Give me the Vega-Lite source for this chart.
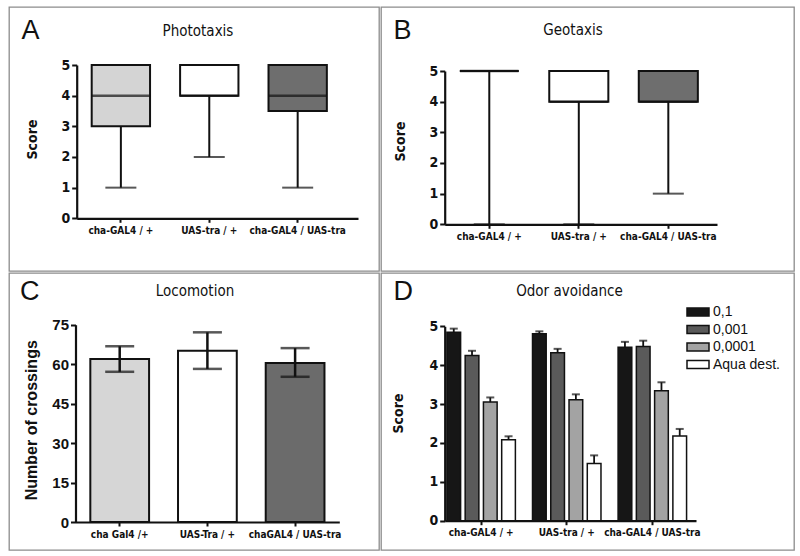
{
  "$schema": "https://vega.github.io/schema/vega-lite/v6.json",
  "padding": {"left": 8, "top": 6, "right": 0, "bottom": 0},
  "background": "white",
  "spacing": 0,
  "resolve": {"scale": {"color": "independent"}},
  "config": {
    "view": {"stroke": "#8c8c8c", "strokeWidth": 1.3},
    "concat": {"spacing": 0},
    "axis": {
      "grid": false,
      "domainColor": "#111", "domainWidth": 2.2,
      "tickColor": "#111", "tickWidth": 2, "tickSize": 5,
      "labelFont": "DejaVu Sans Condensed, Liberation Sans, sans-serif", "labelFontWeight": "bold", "labelColor": "#111",
      "titleFont": "DejaVu Sans Condensed, Liberation Sans, sans-serif", "titleFontWeight": "bold", "titleFontSize": 14, "titleColor": "#111"
    },
    "axisLeft": {"labelFontSize": 14, "labelPadding": 2, "titleAlign": "center", "titleBaseline": "middle", "titleAngle": 270},
    "axisBottom": {"labelFontSize": 10, "labelPadding": 3, "labelAngle": 0, "tickSize": 4},
    "axisTop": {"labels": false, "ticks": false, "domain": false, "titleAlign": "left", "titleBaseline": "alphabetic", "titleAngle": 0, "titleFont": "Liberation Sans, sans-serif", "titleFontWeight": "normal", "titleFontSize": 27, "titleColor": "#111"},
    "title": {"font": "DejaVu Sans Condensed, Liberation Sans, sans-serif", "fontSize": 15, "fontWeight": "normal", "color": "#111", "anchor": "middle", "frame": "group", "baseline": "alphabetic"}
  },
  "datasets": {
    "phototaxis": [
      {"genotype": "cha-GAL4 / +", "min": 1, "q1": 3, "median": 4, "q3": 5, "max": 5},
      {"genotype": "UAS-tra / +", "min": 2, "q1": 4, "median": 4, "q3": 5, "max": 5},
      {"genotype": "cha-GAL4 / UAS-tra", "min": 1, "q1": 3.5, "median": 4, "q3": 5, "max": 5}
    ],
    "geotaxis": [
      {"genotype": "cha-GAL4 / +", "min": 0, "q1": 5, "median": 5, "q3": 5, "max": 5},
      {"genotype": "UAS-tra / +", "min": 0, "q1": 4, "median": 4, "q3": 5, "max": 5},
      {"genotype": "cha-GAL4 / UAS-tra", "min": 1, "q1": 4, "median": 4, "q3": 5, "max": 5}
    ],
    "locomotion": [
      {"genotype": "cha Gal4 /+", "mean": 62.0, "lo": 57.1, "hi": 66.8},
      {"genotype": "UAS-Tra / +", "mean": 65.1, "lo": 58.2, "hi": 72.1},
      {"genotype": "chaGAL4 / UAS-tra", "mean": 60.4, "lo": 55.2, "hi": 66.1}
    ],
    "odor": [
      {"genotype": "cha-GAL4 / +", "concentration": "0,1", "score": 4.85, "upper": 4.94},
      {"genotype": "cha-GAL4 / +", "concentration": "0,001", "score": 4.25, "upper": 4.37},
      {"genotype": "cha-GAL4 / +", "concentration": "0,0001", "score": 3.05, "upper": 3.17},
      {"genotype": "cha-GAL4 / +", "concentration": "Aqua dest.", "score": 2.08, "upper": 2.17},
      {"genotype": "UAS-tra / +", "concentration": "0,1", "score": 4.81, "upper": 4.87},
      {"genotype": "UAS-tra / +", "concentration": "0,001", "score": 4.32, "upper": 4.42},
      {"genotype": "UAS-tra / +", "concentration": "0,0001", "score": 3.11, "upper": 3.25},
      {"genotype": "UAS-tra / +", "concentration": "Aqua dest.", "score": 1.47, "upper": 1.68},
      {"genotype": "cha-GAL4 / UAS-tra", "concentration": "0,1", "score": 4.46, "upper": 4.60},
      {"genotype": "cha-GAL4 / UAS-tra", "concentration": "0,001", "score": 4.48, "upper": 4.63},
      {"genotype": "cha-GAL4 / UAS-tra", "concentration": "0,0001", "score": 3.34, "upper": 3.56},
      {"genotype": "cha-GAL4 / UAS-tra", "concentration": "Aqua dest.", "score": 2.18, "upper": 2.36}
    ]
  },
  "vconcat": [
    {
      "spacing": 0,
      "resolve": {"scale": {"color": "independent"}},
      "hconcat": [
        {
          "width": 370, "height": 264,
          "data": {"name": "phototaxis"},
          "title": {"text": "Phototaxis", "dx": 4, "offset": -31.5},
          "resolve": {"axis": {"x": "independent"}},
          "layer": [
            {
              "mark": {"type": "bar", "stroke": "#111", "strokeWidth": 2},
              "encoding": {
                "x": {"field": "genotype", "type": "nominal", "sort": null,
                      "scale": {"range": [67.7, 349], "paddingInner": 0.34, "paddingOuter": 0.261, "align": 0.325},
                      "axis": {"orient": "bottom", "offset": -52.7, "title": null}},
                "y": {"field": "q1", "type": "quantitative",
                      "scale": {"domain": [0, 5], "range": [211.3, 58], "nice": false},
                      "axis": {"offset": -67.7, "values": [0, 1, 2, 3, 4, 5], "title": "Score", "titleX": -43.7, "titleY": 132}},
                "y2": {"field": "q3"},
                "color": {"field": "genotype", "type": "nominal",
                          "scale": {"domain": ["cha-GAL4 / +", "UAS-tra / +", "cha-GAL4 / UAS-tra"], "range": ["#d4d4d4", "#ffffff", "#6e6e6e"]},
                          "legend": null}
              }
            },
            {
              "mark": {"type": "rule", "color": "#111", "strokeWidth": 2},
              "encoding": {
                "x": {"field": "genotype", "type": "nominal", "sort": null,
                      "axis": {"orient": "top", "title": "A", "titleX": 12, "titleY": 31}},
                "y": {"field": "min", "type": "quantitative"},
                "y2": {"field": "q1"}
              }
            },
            {
              "mark": {"type": "rule", "color": "#111", "strokeWidth": 2},
              "encoding": {
                "x": {"field": "genotype", "type": "nominal", "sort": null, "axis": null},
                "y": {"field": "q3", "type": "quantitative"},
                "y2": {"field": "max"}
              }
            },
            {
              "mark": {"type": "tick", "color": "#111", "size": 31, "thickness": 2},
              "encoding": {
                "x": {"field": "genotype", "type": "nominal", "sort": null, "axis": null},
                "y": {"field": "min", "type": "quantitative"}
              }
            },
            {
              "mark": {"type": "tick", "color": "#111", "size": 58.5, "thickness": 2.5},
              "encoding": {
                "x": {"field": "genotype", "type": "nominal", "sort": null, "axis": null},
                "y": {"field": "median", "type": "quantitative"}
              }
            }
          ]
        },
        {
          "width": 413, "height": 264,
          "data": {"name": "geotaxis"},
          "title": {"text": "Geotaxis", "dx": -14.5, "offset": -30.7},
          "resolve": {"axis": {"x": "independent"}},
          "layer": [
            {
              "mark": {"type": "bar", "stroke": "#111", "strokeWidth": 2},
              "encoding": {
                "x": {"field": "genotype", "type": "nominal", "sort": null,
                      "scale": {"range": [63.7, 336], "paddingInner": 0.34, "paddingOuter": 0.191, "align": 0.44},
                      "axis": {"orient": "bottom", "offset": -46.7, "title": null}},
                "y": {"field": "q1", "type": "quantitative",
                      "scale": {"domain": [0, 5], "range": [217.3, 64], "nice": false},
                      "axis": {"offset": -63.7, "values": [0, 1, 2, 3, 4, 5], "title": "Score", "titleX": -44.7, "titleY": 134}},
                "y2": {"field": "q3"},
                "color": {"field": "genotype", "type": "nominal",
                          "scale": {"domain": ["cha-GAL4 / +", "UAS-tra / +", "cha-GAL4 / UAS-tra"], "range": ["#ffffff", "#ffffff", "#6e6e6e"]},
                          "legend": null}
              }
            },
            {
              "mark": {"type": "rule", "color": "#111", "strokeWidth": 2},
              "encoding": {
                "x": {"field": "genotype", "type": "nominal", "sort": null,
                      "axis": {"orient": "top", "title": "B", "titleX": 12, "titleY": 31}},
                "y": {"field": "min", "type": "quantitative"},
                "y2": {"field": "q1"}
              }
            },
            {
              "mark": {"type": "tick", "color": "#111", "size": 31, "thickness": 2},
              "encoding": {
                "x": {"field": "genotype", "type": "nominal", "sort": null, "axis": null},
                "y": {"field": "min", "type": "quantitative"}
              }
            },
            {
              "mark": {"type": "tick", "color": "#111", "size": 58.5, "thickness": 2.5},
              "encoding": {
                "x": {"field": "genotype", "type": "nominal", "sort": null, "axis": null},
                "y": {"field": "median", "type": "quantitative"}
              }
            }
          ]
        }
      ]
    },
    {
      "spacing": 0,
      "resolve": {"scale": {"color": "independent"}},
      "hconcat": [
        {
          "width": 370, "height": 277,
          "data": {"name": "locomotion"},
          "title": {"text": "Locomotion", "dx": 1, "offset": -26},
          "resolve": {"axis": {"x": "independent"}},
          "layer": [
            {
              "mark": {"type": "bar", "stroke": "#111", "strokeWidth": 2},
              "encoding": {
                "x": {"field": "genotype", "type": "nominal", "sort": null,
                      "scale": {"range": [66.5, 330.3], "paddingInner": 0.33, "paddingOuter": 0.169, "align": 0.5},
                      "axis": {"orient": "bottom", "offset": -28, "title": null}},
                "y": {"field": "mean", "type": "quantitative",
                      "scale": {"domain": [0, 75], "range": [249, 51.7], "nice": false},
                      "axis": {"offset": -66.5, "values": [0, 15, 30, 45, 60, 75], "labelFont": "Liberation Sans, sans-serif", "labelFontSize": 15, "title": "Number of crossings", "titleFont": "Liberation Sans, sans-serif", "titleFontSize": 16, "titleX": -44.5, "titleY": 146.7}},
                "color": {"field": "genotype", "type": "nominal",
                          "scale": {"domain": ["cha Gal4 /+", "UAS-Tra / +", "chaGAL4 / UAS-tra"], "range": ["#d6d6d6", "#ffffff", "#6b6b6b"]},
                          "legend": null}
              }
            },
            {
              "mark": {"type": "rule", "color": "#111", "strokeWidth": 2.5},
              "encoding": {
                "x": {"field": "genotype", "type": "nominal", "sort": null,
                      "axis": {"orient": "top", "title": "C", "titleX": 10.5, "titleY": 26.5}},
                "y": {"field": "lo", "type": "quantitative"},
                "y2": {"field": "hi"}
              }
            },
            {
              "mark": {"type": "tick", "color": "#111", "size": 29, "thickness": 2.5},
              "encoding": {
                "x": {"field": "genotype", "type": "nominal", "sort": null, "axis": null},
                "y": {"field": "lo", "type": "quantitative"}
              }
            },
            {
              "mark": {"type": "tick", "color": "#111", "size": 29, "thickness": 2.5},
              "encoding": {
                "x": {"field": "genotype", "type": "nominal", "sort": null, "axis": null},
                "y": {"field": "hi", "type": "quantitative"}
              }
            }
          ]
        },
        {
          "width": 413, "height": 277,
          "data": {"name": "odor"},
          "title": {"text": "Odor avoidance", "dx": -18, "offset": -26},
          "resolve": {"axis": {"x": "independent"}},
          "layer": [
            {
              "mark": {"type": "bar", "stroke": "#111", "strokeWidth": 1.5},
              "encoding": {
                "x": {"field": "genotype", "type": "nominal", "sort": null,
                      "scale": {"range": [63.7, 315], "paddingInner": 0.2, "paddingOuter": 0.068, "align": 0.19},
                      "axis": {"orient": "bottom", "offset": -29.3, "title": null}},
                "xOffset": {"field": "concentration", "type": "nominal", "sort": null,
                            "scale": {"paddingInner": 0.25, "paddingOuter": 0}},
                "y": {"field": "score", "type": "quantitative",
                      "scale": {"domain": [0, 5], "range": [247.7, 53.3], "nice": false},
                      "axis": {"offset": -63.7, "values": [0, 1, 2, 3, 4, 5], "title": "Score", "titleX": -46.7, "titleY": 140}},
                "color": {"field": "concentration", "type": "nominal",
                          "scale": {"domain": ["0,1", "0,001", "0,0001", "Aqua dest."], "range": ["#161616", "#5a5a5a", "#a3a3a3", "#ffffff"]},
                          "legend": {"orient": "none", "legendX": 310, "legendY": 32, "title": null,
                                     "symbolType": "M-2,-0.72L2,-0.72L2,0.72L-2,0.72Z", "symbolSize": 121,
                                     "labelFont": "Liberation Sans, sans-serif", "labelFontSize": 14, "labelColor": "#111", "labelOffset": 8,
                                     "rowPadding": 3.5,
                                     "encode": {"symbols": {"update": {"stroke": {"value": "#111"}, "strokeWidth": {"value": 1.5}}}}}}
              }
            },
            {
              "mark": {"type": "rule", "color": "#111", "strokeWidth": 1.8},
              "encoding": {
                "x": {"field": "genotype", "type": "nominal", "sort": null,
                      "axis": {"orient": "top", "title": "D", "titleX": 12, "titleY": 26.7}},
                "xOffset": {"field": "concentration", "type": "nominal", "sort": null},
                "y": {"field": "score", "type": "quantitative"},
                "y2": {"field": "upper"}
              }
            },
            {
              "mark": {"type": "tick", "color": "#111", "size": 8, "thickness": 2},
              "encoding": {
                "x": {"field": "genotype", "type": "nominal", "sort": null, "axis": null},
                "xOffset": {"field": "concentration", "type": "nominal", "sort": null},
                "y": {"field": "upper", "type": "quantitative"}
              }
            }
          ]
        }
      ]
    }
  ]
}
